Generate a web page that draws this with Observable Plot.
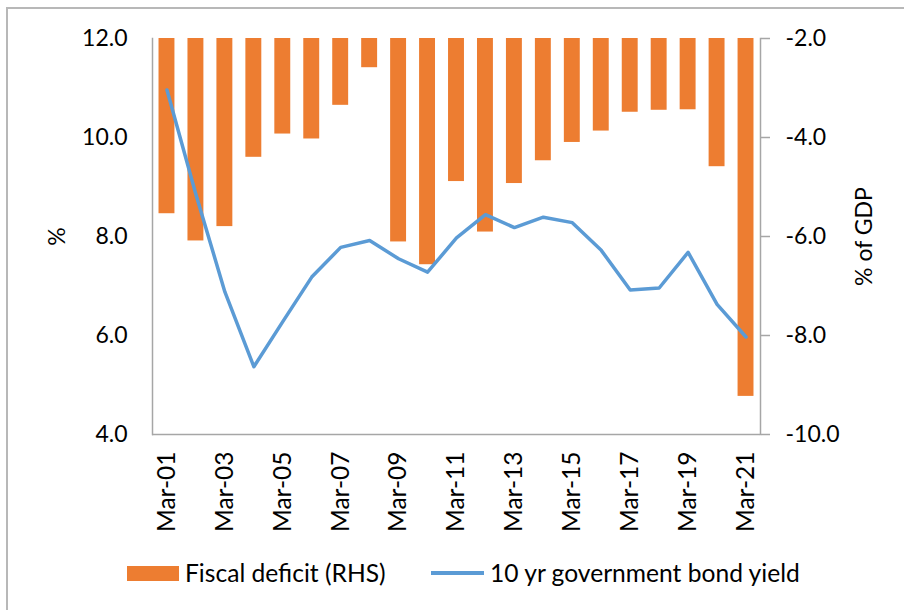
<!DOCTYPE html>
<html>
<head>
<meta charset="utf-8">
<script src="https://cdn.jsdelivr.net/npm/d3@7"></script>
<script src="https://cdn.jsdelivr.net/npm/@observablehq/plot@0.6"></script>
<style>
  html, body { margin: 0; padding: 0; background: #fff; }
  body { width: 904px; height: 610px; position: relative; overflow: hidden; font-family: Lato, "Liberation Sans", sans-serif; color: #000; }
  #border { position: absolute; left: 6px; top: 7px; width: 1000px; height: 700px; border: 2px solid #b8b8b8; box-sizing: border-box; }
  #chart { position: absolute; left: 0; top: 0; }
  #legend { position: absolute; left: 0; top: 0; width: 904px; height: 610px; pointer-events: none; }
  .sw-bar { position: absolute; left: 127px; top: 566px; width: 52px; height: 15px; background: #ED7D31; }
  .sw-line { position: absolute; left: 431px; top: 571px; width: 53px; height: 4px; background: #5B9BD5; }
  .lt { position: absolute; top: 558px; font-size: 24.6px; line-height: 30px; white-space: nowrap; }
</style>
</head>
<body>
<div id="border"></div>
<div id="chart"></div>
<div id="legend">
  <div class="sw-bar"></div>
  <div class="lt" style="left:185px">Fiscal deficit (RHS)</div>
  <div class="sw-line"></div>
  <div class="lt" style="left:490px">10 yr government bond yield</div>
</div>
<script>
const categories = ["Mar-01","Mar-02","Mar-03","Mar-04","Mar-05","Mar-06","Mar-07","Mar-08","Mar-09","Mar-10","Mar-11","Mar-12","Mar-13","Mar-14","Mar-15","Mar-16","Mar-17","Mar-18","Mar-19","Mar-20","Mar-21"];
const fiscalDeficit = [-5.54, -6.09, -5.80, -4.40, -3.93, -4.03, -3.35, -2.59, -6.11, -6.57, -4.89, -5.91, -4.93, -4.47, -4.10, -3.87, -3.49, -3.45, -3.44, -4.59, -9.23];
const bondYield = [10.96, 8.85, 6.88, 5.37, 6.28, 7.18, 7.78, 7.92, 7.55, 7.28, 7.97, 8.44, 8.18, 8.39, 8.28, 7.72, 6.92, 6.96, 7.68, 6.63, 5.97];
const leftTicks = [4, 6, 8, 10, 12];
const rightTicks = [-10, -8, -6, -4, -2];
const xTickLabels = ["Mar-01","Mar-03","Mar-05","Mar-07","Mar-09","Mar-11","Mar-13","Mar-15","Mar-17","Mar-19","Mar-21"];

const leftDomain = [4, 12];
const rightDomain = [-10, -2];
const k = (leftDomain[1] - leftDomain[0]) / (rightDomain[1] - rightDomain[0]);
const toLeft = v => leftDomain[0] + (v - rightDomain[0]) * k;
const toRight = v => rightDomain[0] + (v - leftDomain[0]) / k;

const data = categories.map((c, i) => ({cat: c, deficit: fiscalDeficit[i], yld: bondYield[i]}));
const axisColor = "#a6a6a6";

const chart = Plot.plot({
  width: 904,
  height: 545,
  marginLeft: 152,
  marginRight: 144,
  marginTop: 38,
  marginBottom: 111,
  style: {fontFamily: "Lato, 'Liberation Sans', sans-serif", fontSize: "23px", color: "#000", background: "transparent"},
  x: {type: "band", domain: categories, paddingInner: 0.45, paddingOuter: 0.225, round: false},
  y: {domain: leftDomain},
  marks: [
    Plot.barY(data, {x: "cat", y1: () => toLeft(rightDomain[1]), y2: d => toLeft(d.deficit), fill: "#ED7D31"}),
    Plot.ruleY([leftDomain[0]], {stroke: axisColor, strokeWidth: 1.5}),
    Plot.frame({anchor: "left", stroke: axisColor, strokeWidth: 1.5}),
    Plot.frame({anchor: "right", stroke: axisColor, strokeWidth: 1.5}),
    Plot.line(data, {x: "cat", y: "yld", stroke: "#5B9BD5", strokeWidth: 3.5, strokeLinejoin: "round", strokeLinecap: "round"}),
    Plot.axisY({anchor: "left", ticks: leftTicks, tickSize: 0, tickPadding: 25, tickFormat: d => d.toFixed(1), label: null, fill: "#000"}),
    Plot.axisY({anchor: "right", ticks: rightTicks.map(toLeft), tickSize: 9, tickPadding: 16, tickFormat: d => toRight(d).toFixed(1), label: null, stroke: axisColor, strokeWidth: 1.5, fill: "#000"}),
    Plot.axisX({ticks: xTickLabels, tickRotate: -90, tickSize: 0, tickPadding: 17, label: null, fill: "#000", fontSize: 24.5}),
    Plot.text(["%"], {frameAnchor: "left", dx: -95, rotate: -90, textAnchor: "middle", fill: "#000", fontSize: 23}),
    Plot.text(["% of GDP"], {frameAnchor: "right", dx: 104, rotate: -90, textAnchor: "middle", fill: "#000", fontSize: 23})
  ]
});
document.getElementById("chart").appendChild(chart);
</script>
</body>
</html>
